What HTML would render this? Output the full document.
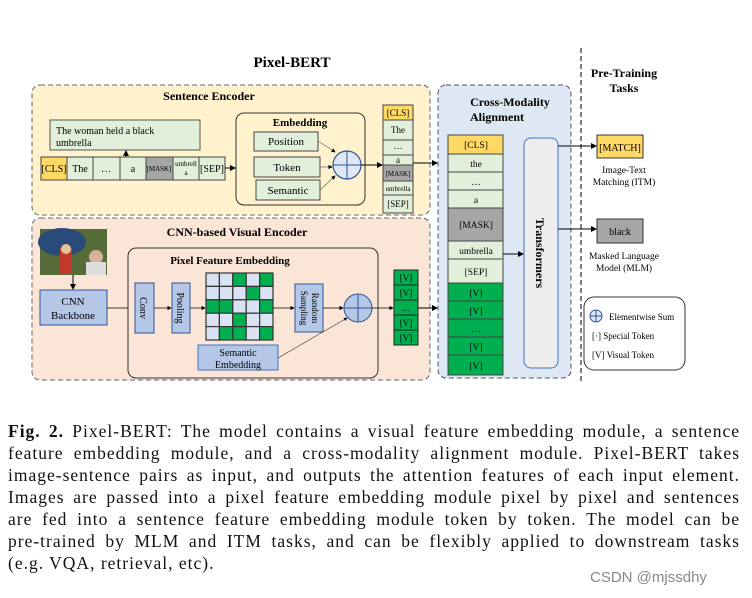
<!DOCTYPE html>
<html><head><meta charset="utf-8"><style>
body{margin:0;background:#fff;width:752px;height:598px;overflow:hidden;position:relative;font-family:"Liberation Serif",serif}
svg{position:absolute;left:0;top:0}
.cap{position:absolute;left:8px;top:420px;width:732px;font-size:17.5px;letter-spacing:1px;line-height:22px;color:#111}
.cap div{text-align:justify;text-align-last:justify;white-space:nowrap}
.cap div.l{text-align-last:left}
.wm{position:absolute;left:590px;top:569px;font-family:"Liberation Sans",sans-serif;font-size:15px;color:#888}
</style></head><body>
<svg width="752" height="420" font-family="Liberation Serif, serif">
<defs><marker id="a" markerWidth="6" markerHeight="6" refX="5" refY="3" orient="auto"><path d="M0,0L6,3L0,6z" fill="#000"/></marker></defs>
<text x="292" y="67" font-size="15" font-weight="bold" text-anchor="middle">Pixel-BERT</text>
<line x1="581" y1="48" x2="581" y2="382" stroke="#000" stroke-dasharray="5,3"/>
<text x="624" y="77" font-size="12" font-weight="bold" text-anchor="middle">Pre-Training</text>
<text x="624" y="92" font-size="12" font-weight="bold" text-anchor="middle">Tasks</text>
<rect x="32" y="85" width="398" height="130" rx="8" fill="#fff2cc" stroke="#666" stroke-dasharray="5,3"/>
<text x="209" y="100" font-size="12" font-weight="bold" text-anchor="middle">Sentence Encoder</text>
<rect x="50" y="120" width="150" height="30" fill="#e2efda" stroke="#555"/>
<text x="56" y="134" font-size="10">The woman held a black</text>
<text x="56" y="146" font-size="10">umbrella</text>
<line x1="126" y1="157" x2="126" y2="151" stroke="#000" marker-end="url(#a)"/>
<g stroke="#444" font-size="10" text-anchor="middle">
<rect x="41" y="157" width="26" height="23" fill="#ffd966"/>
<rect x="67" y="157" width="26" height="23" fill="#e2efda"/>
<rect x="93" y="157" width="27" height="23" fill="#e2efda"/>
<rect x="120" y="157" width="26" height="23" fill="#e2efda"/>
<rect x="146" y="157" width="27" height="23" fill="#a6a6a6"/>
<rect x="173" y="157" width="26" height="23" fill="#e2efda"/>
<rect x="199" y="157" width="26" height="23" fill="#e2efda"/>
</g>
<g font-size="10" text-anchor="middle">
<text x="54" y="172">[CLS]</text><text x="80" y="172">The</text><text x="106" y="172">…</text><text x="133" y="172">a</text>
<text x="159" y="171" font-size="7">[MASK]</text><text x="186" y="166" font-size="7">umbrell</text><text x="186" y="175" font-size="7">a</text><text x="212" y="172">[SEP]</text>
</g>
<line x1="225" y1="168" x2="235" y2="168" stroke="#000" marker-end="url(#a)"/>
<rect x="236" y="113" width="129" height="92" rx="8" fill="#fff2cc" stroke="#333"/>
<text x="300" y="126" font-size="11" font-weight="bold" text-anchor="middle">Embedding</text>
<g stroke="#444" fill="#e2efda"><rect x="254" y="132" width="64" height="19"/><rect x="254" y="157" width="66" height="20"/><rect x="256" y="180" width="64" height="20"/></g>
<g font-size="11" text-anchor="middle"><text x="286" y="145">Position</text><text x="287" y="171">Token</text><text x="288" y="194">Semantic</text></g>
<g stroke="#666" stroke-width="0.7"><line x1="318" y1="141" x2="335" y2="152" marker-end="url(#a)"/><line x1="320" y1="167" x2="332" y2="167" marker-end="url(#a)"/><line x1="320" y1="190" x2="335" y2="176" marker-end="url(#a)"/></g>
<circle cx="347" cy="165" r="14" fill="#dde8f4" stroke="#2f5597" stroke-width="1.2"/>
<path d="M333,165H361M347,151V179" stroke="#2f5597"/>
<line x1="361" y1="165" x2="382" y2="165" stroke="#000" marker-end="url(#a)"/>
<g stroke="#444" fill="#e2efda">
<rect x="383" y="105" width="30" height="15" fill="#ffd966"/><rect x="383" y="120" width="30" height="20"/><rect x="383" y="140" width="30" height="15"/><rect x="383" y="155" width="30" height="10"/><rect x="383" y="165" width="30" height="16" fill="#a6a6a6"/><rect x="383" y="181" width="30" height="14"/><rect x="383" y="195" width="30" height="18"/>
</g>
<g font-size="9" text-anchor="middle"><text x="398" y="116">[CLS]</text><text x="398" y="133">The</text><text x="398" y="149">…</text><text x="398" y="163">a</text><text x="398" y="176" font-size="7">[MASK]</text><text x="398" y="191" font-size="7">umbrella</text><text x="398" y="207">[SEP]</text></g>
<line x1="413" y1="163" x2="437" y2="163" stroke="#000" marker-end="url(#a)"/>
<rect x="32" y="218" width="398" height="162" rx="8" fill="#fbe5d6" stroke="#666" stroke-dasharray="5,3"/>
<text x="237" y="236" font-size="12" font-weight="bold" text-anchor="middle">CNN-based Visual Encoder</text>
<rect x="40" y="229" width="67" height="46" fill="#556b3a"/>
<ellipse cx="62" cy="242" rx="24" ry="14" fill="#2a4a7a"/><rect x="60" y="248" width="12" height="26" fill="#c0392b"/><circle cx="66" cy="249" r="5" fill="#e8c49a"/><circle cx="96" cy="257" r="7" fill="#d9b29a"/><rect x="86" y="262" width="20" height="13" fill="#ddd"/>
<line x1="73" y1="275" x2="73" y2="289" stroke="#000" marker-end="url(#a)"/>
<rect x="40" y="290" width="67" height="35" fill="#b4c7e7" stroke="#2f5597"/>
<text x="73" y="305" font-size="11" text-anchor="middle">CNN</text><text x="73" y="319" font-size="11" text-anchor="middle">Backbone</text>
<line x1="107" y1="308" x2="134" y2="308" stroke="#000" stroke-width="0.7" marker-end="url(#a)"/>
<rect x="128" y="248" width="250" height="130" rx="8" fill="#fbe5d6" stroke="#333"/>
<text x="230" y="264" font-size="11" font-weight="bold" text-anchor="middle">Pixel Feature Embedding</text>
<rect x="135" y="283" width="19" height="50" fill="#b4c7e7" stroke="#2f5597"/>
<rect x="172" y="283" width="18" height="50" fill="#b4c7e7" stroke="#2f5597"/>
<text transform="translate(140,308) rotate(90)" font-size="10" text-anchor="middle">Conv</text>
<text transform="translate(177,308) rotate(90)" font-size="10" text-anchor="middle">Pooling</text>
<line x1="154" y1="308" x2="171" y2="308" stroke="#000" stroke-width="0.7" marker-end="url(#a)"/>
<line x1="190" y1="308" x2="205" y2="308" stroke="#000" stroke-width="0.7" marker-end="url(#a)"/>
<g stroke="#333" stroke-width="1.2">
<rect x="206" y="273" width="13.4" height="13.4" fill="#dae3f3"/><rect x="219.4" y="273" width="13.4" height="13.4" fill="#dae3f3"/><rect x="232.8" y="273" width="13.4" height="13.4" fill="#00b050"/><rect x="246.2" y="273" width="13.4" height="13.4" fill="#dae3f3"/><rect x="259.6" y="273" width="13.4" height="13.4" fill="#00b050"/>
<rect x="206" y="286.4" width="13.4" height="13.4" fill="#dae3f3"/><rect x="219.4" y="286.4" width="13.4" height="13.4" fill="#dae3f3"/><rect x="232.8" y="286.4" width="13.4" height="13.4" fill="#dae3f3"/><rect x="246.2" y="286.4" width="13.4" height="13.4" fill="#00b050"/><rect x="259.6" y="286.4" width="13.4" height="13.4" fill="#dae3f3"/>
<rect x="206" y="299.8" width="13.4" height="13.4" fill="#00b050"/><rect x="219.4" y="299.8" width="13.4" height="13.4" fill="#00b050"/><rect x="232.8" y="299.8" width="13.4" height="13.4" fill="#dae3f3"/><rect x="246.2" y="299.8" width="13.4" height="13.4" fill="#dae3f3"/><rect x="259.6" y="299.8" width="13.4" height="13.4" fill="#00b050"/>
<rect x="206" y="313.2" width="13.4" height="13.4" fill="#dae3f3"/><rect x="219.4" y="313.2" width="13.4" height="13.4" fill="#dae3f3"/><rect x="232.8" y="313.2" width="13.4" height="13.4" fill="#00b050"/><rect x="246.2" y="313.2" width="13.4" height="13.4" fill="#dae3f3"/><rect x="259.6" y="313.2" width="13.4" height="13.4" fill="#dae3f3"/>
<rect x="206" y="326.6" width="13.4" height="13.4" fill="#dae3f3"/><rect x="219.4" y="326.6" width="13.4" height="13.4" fill="#00b050"/><rect x="232.8" y="326.6" width="13.4" height="13.4" fill="#00b050"/><rect x="246.2" y="326.6" width="13.4" height="13.4" fill="#dae3f3"/><rect x="259.6" y="326.6" width="13.4" height="13.4" fill="#00b050"/>
</g>
<line x1="273" y1="308" x2="294" y2="308" stroke="#000" stroke-width="0.7" marker-end="url(#a)"/>
<rect x="295" y="284" width="28" height="48" fill="#b4c7e7" stroke="#2f5597"/>
<text transform="translate(312,308) rotate(90)" font-size="9" text-anchor="middle">Random</text>
<text transform="translate(301,308) rotate(90)" font-size="9" text-anchor="middle">Sampling</text>
<line x1="323" y1="308" x2="343" y2="308" stroke="#000" stroke-width="0.7" marker-end="url(#a)"/>
<circle cx="358" cy="308" r="14" fill="#b4c7e7" stroke="#2f5597"/><path d="M344,308H372M358,294V322" stroke="#2f5597"/>
<rect x="198" y="345" width="80" height="25" fill="#b4c7e7" stroke="#4472c4"/>
<text x="238" y="356" font-size="10" text-anchor="middle">Semantic</text><text x="238" y="368" font-size="10" text-anchor="middle">Embedding</text>
<line x1="278" y1="358" x2="347" y2="318" stroke="#333" stroke-width="0.6" marker-end="url(#a)"/>
<line x1="372" y1="308" x2="393" y2="308" stroke="#000" stroke-width="0.7" marker-end="url(#a)"/>
<g stroke="#222" fill="#00b050"><rect x="394" y="270" width="24" height="15"/><rect x="394" y="285" width="24" height="15"/><rect x="394" y="300" width="24" height="15"/><rect x="394" y="315" width="24" height="15"/><rect x="394" y="330" width="24" height="15"/></g>
<g font-size="9" text-anchor="middle"><text x="406" y="281">[V]</text><text x="406" y="296">[V]</text><text x="406" y="311">…</text><text x="406" y="326">[V]</text><text x="406" y="341">[V]</text></g>
<line x1="418" y1="308" x2="437" y2="308" stroke="#000" marker-end="url(#a)"/>
<rect x="438" y="85" width="133" height="293" rx="8" fill="#dde8f4" stroke="#555" stroke-dasharray="5,3"/>
<text x="510" y="106" font-size="12" font-weight="bold" text-anchor="middle">Cross-Modality</text>
<text x="497" y="121" font-size="12" font-weight="bold" text-anchor="middle">Alignment</text>
<g stroke="#444">
<rect x="448" y="135" width="55" height="19" fill="#ffd966"/><rect x="448" y="154" width="55" height="18" fill="#e2efda"/><rect x="448" y="172" width="55" height="18" fill="#e2efda"/><rect x="448" y="190" width="55" height="18" fill="#e2efda"/><rect x="448" y="208" width="55" height="33" fill="#a6a6a6"/><rect x="448" y="241" width="55" height="18" fill="#e2efda"/><rect x="448" y="259" width="55" height="24" fill="#e2efda"/>
<rect x="448" y="283" width="55" height="18" fill="#00b050"/><rect x="448" y="301" width="55" height="18" fill="#00b050"/><rect x="448" y="319" width="55" height="18" fill="#00b050"/><rect x="448" y="337" width="55" height="18" fill="#00b050"/><rect x="448" y="355" width="55" height="20" fill="#00b050"/>
</g>
<g font-size="9.5" text-anchor="middle"><text x="476" y="148">[CLS]</text><text x="476" y="167">the</text><text x="476" y="185">…</text><text x="476" y="203">a</text><text x="476" y="228">[MASK]</text><text x="476" y="254">umbrella</text><text x="476" y="275">[SEP]</text><text x="476" y="296">[V]</text><text x="476" y="314">[V]</text><text x="476" y="332">…</text><text x="476" y="350">[V]</text><text x="476" y="369">[V]</text></g>
<line x1="503" y1="254" x2="523" y2="254" stroke="#000" marker-end="url(#a)"/>
<rect x="524" y="138" width="34" height="230" rx="7" fill="#ededed" stroke="#4472c4"/>
<text transform="translate(536,253) rotate(90)" font-size="12" font-weight="bold" text-anchor="middle">Transformers</text>
<line x1="558" y1="146" x2="596" y2="146" stroke="#000" marker-end="url(#a)"/>
<line x1="558" y1="229" x2="596" y2="229" stroke="#000" marker-end="url(#a)"/>
<rect x="597" y="135" width="46" height="23" fill="#ffd966" stroke="#333"/><text x="620" y="151" font-size="10" text-anchor="middle">[MATCH]</text>
<rect x="597" y="219" width="46" height="24" fill="#a6a6a6" stroke="#333"/><text x="620" y="235" font-size="10" text-anchor="middle">black</text>
<g font-size="9.5" text-anchor="middle"><text x="624" y="173">Image-Text</text><text x="624" y="185">Matching (ITM)</text><text x="624" y="259">Masked Language</text><text x="624" y="271">Model (MLM)</text></g>
<rect x="584" y="297" width="101" height="73" rx="10" fill="#fff" stroke="#333"/>
<circle cx="596" cy="316" r="6" fill="#dde8f4" stroke="#2f5597"/><path d="M590,316H602M596,310V322" stroke="#2f5597"/>
<g font-size="9"><text x="609" y="320">Elementwise Sum</text><text x="592" y="339">[·]  Special Token</text><text x="592" y="358">[V]  Visual Token</text></g>
</svg>
<div class="cap">
<div><b>Fig. 2.</b> Pixel-BERT: The model contains a visual feature embedding module, a sentence</div>
<div>feature embedding module, and a cross-modality alignment module. Pixel-BERT takes</div>
<div>image-sentence pairs as input, and outputs the attention features of each input element.</div>
<div>Images are passed into a pixel feature embedding module pixel by pixel and sentences</div>
<div>are fed into a sentence feature embedding module token by token. The model can be</div>
<div>pre-trained by MLM and ITM tasks, and can be flexibly applied to downstream tasks</div>
<div class="l">(e.g. VQA, retrieval, etc).</div>
</div>
<div class="wm">CSDN @mjssdhy</div>
</body></html>
